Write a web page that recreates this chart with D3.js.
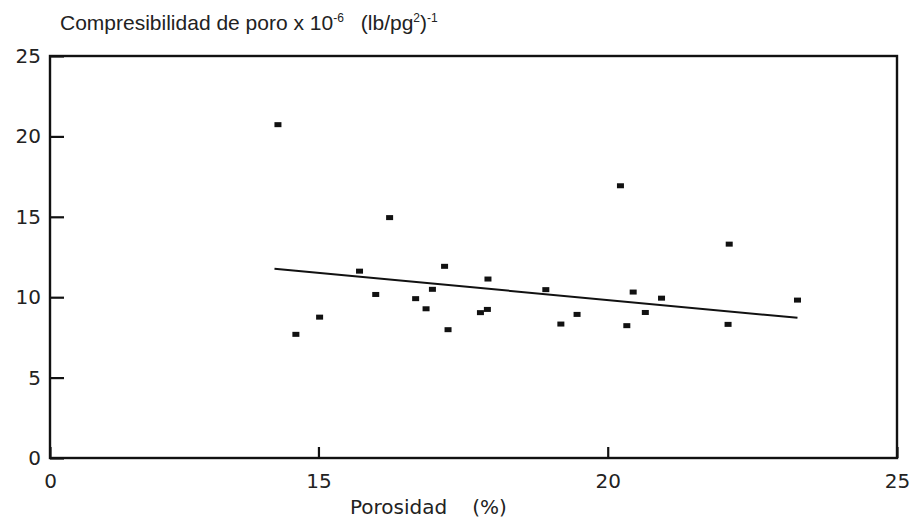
<!DOCTYPE html>
<html>
<head>
<meta charset="utf-8">
<script src="https://cdn.jsdelivr.net/npm/d3@7"></script>
<style>
  html, body { margin: 0; padding: 0; background: #fff; }
  svg { display: block; }
</style>
</head>
<body>
<svg id="chart" width="911" height="519"></svg>
<script>
// ---- data ----
const porosity = [14.30, 14.61, 15.02, 15.71, 15.99, 16.23, 16.68, 16.86, 16.97, 17.18, 17.24, 17.80, 17.92, 17.93,
                  18.93, 19.19, 19.47, 20.22, 20.33, 20.44, 20.65, 20.93, 22.10, 22.08, 23.28];
const compressibility = [20.73, 7.69, 8.76, 11.62, 10.17, 14.95, 9.91, 9.28, 10.49, 11.92, 7.98, 9.04, 9.24, 11.13,
                  10.47, 8.33, 8.93, 16.93, 8.23, 10.32, 9.05, 9.94, 13.30, 8.31, 9.82];
const trendX = [14.24, 23.28];
const trendY = [11.77, 8.72];
const xDomain = [10.36, 25];
const yDomain = [0, 25];
const xTickValues = [10.36, 15, 20, 25];
const xTickLabels = ["0", "15", "20", "25"];
const yTickValues = [0, 5, 10, 15, 20, 25];
const yTickLabels = ["0", "5", "10", "15", "20", "25"];

// ---- layout ----
const svg = d3.select("#chart");
const mLeft = 50, mRight = 897, mTop = 56, mBottom = 458;
const x = d3.scaleLinear().domain(xDomain).range([mLeft, mRight]);
const y = d3.scaleLinear().domain(yDomain).range([mBottom, mTop]);
const ink = "#111";
const tickFont = "'DejaVu Sans', Verdana, sans-serif";

// y axis
const yAxis = svg.append("g").attr("transform", `translate(${mLeft},0)`)
  .call(d3.axisLeft(y).tickValues(yTickValues)
    .tickFormat((d, i) => yTickLabels[i]).tickSizeInner(-14).tickSizeOuter(0).tickPadding(9));
yAxis.select(".domain").remove();
yAxis.selectAll(".tick line").attr("stroke", ink).attr("stroke-width", 2.2);
yAxis.selectAll(".tick text").attr("fill", "#222").style("font-family", tickFont).style("font-size", "20px");

// x axis
const xAxis = svg.append("g").attr("transform", `translate(0,${mBottom})`)
  .call(d3.axisBottom(x).tickValues(xTickValues)
    .tickFormat((d, i) => xTickLabels[i]).tickSizeInner(-11).tickSizeOuter(0).tickPadding(16));
xAxis.select(".domain").remove();
xAxis.selectAll(".tick line").attr("stroke", ink).attr("stroke-width", 2.2);
xAxis.selectAll(".tick text").attr("fill", "#222").style("font-family", tickFont).style("font-size", "20px");

// frame
svg.append("rect")
  .attr("x", x(xDomain[0])).attr("y", y(yDomain[1]))
  .attr("width", x(xDomain[1]) - x(xDomain[0])).attr("height", y(yDomain[0]) - y(yDomain[1]))
  .attr("fill", "none").attr("stroke", ink).attr("stroke-width", 2.4);

// trend line
svg.append("path")
  .datum(trendX.map((v, i) => [v, trendY[i]]))
  .attr("d", d3.line().x(d => x(d[0])).y(d => y(d[1])))
  .attr("fill", "none").attr("stroke", ink).attr("stroke-width", 2);

// points
const pts = porosity.map((v, i) => ({ x: v, y: compressibility[i] }));
svg.append("g").selectAll("rect").data(pts).join("rect")
  .attr("x", d => x(d.x) - 3.5).attr("y", d => y(d.y) - 2.5)
  .attr("width", 7).attr("height", 5).attr("fill", ink);

// titles
const title = svg.append("text").attr("x", 60).attr("y", 30)
  .attr("fill", "#222").style("font-family", "'Liberation Sans', Arial, sans-serif").style("font-size", "21px");
title.append("tspan").text("Compresibilidad de poro x 10");
title.append("tspan").attr("dy", -8).style("font-size", "12px").text("-6");
title.append("tspan").attr("dy", 8).attr("dx", 17).text("(lb/pg");
title.append("tspan").attr("dy", -8).style("font-size", "12px").text("2");
title.append("tspan").attr("dy", 8).text(")");
title.append("tspan").attr("dy", -8).style("font-size", "12px").text("-1");

const xt = svg.append("text").attr("x", 350).attr("y", 514)
  .attr("fill", "#222").style("font-family", tickFont).style("font-size", "20px");
xt.append("tspan").text("Porosidad");
xt.append("tspan").attr("dx", 25).text("(%)");
</script>
</body>
</html>
